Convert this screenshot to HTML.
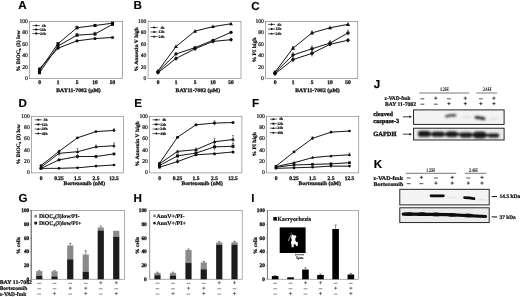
<!DOCTYPE html>
<html><head><meta charset="utf-8"><title>Figure</title>
<style>
html,body{margin:0;padding:0;background:#fff;}
body{width:520px;height:297px;overflow:hidden;font-family:"Liberation Serif",serif;}
svg{display:block;}
</style></head><body>
<svg width="520" height="297" viewBox="0 0 520 297" text-rendering="geometricPrecision">
<defs>
<filter id="bl" x="-5%" y="-5%" width="110%" height="110%"><feGaussianBlur stdDeviation="0.35"/></filter>
<filter id="bl3" x="-20%" y="-50%" width="140%" height="200%"><feGaussianBlur stdDeviation="0.6"/></filter>
<filter id="bl2" x="-20%" y="-50%" width="140%" height="200%"><feGaussianBlur stdDeviation="0.85"/></filter>
</defs>
<rect width="520" height="297" fill="#fff"/>
<g filter="url(#bl)" fill="#111">

<text x="18.3" y="9.0" font-size="11.6" font-family="Liberation Sans" font-weight="bold" fill="#000" stroke="#000" stroke-width="0.15">A</text>
<text x="133.6" y="9.45" font-size="11.6" font-family="Liberation Sans" font-weight="bold" fill="#000" stroke="#000" stroke-width="0.15">B</text>
<text x="251.2" y="9.7" font-size="11.6" font-family="Liberation Sans" font-weight="bold" fill="#000" stroke="#000" stroke-width="0.15">C</text>
<text x="18.5" y="106.7" font-size="11.6" font-family="Liberation Sans" font-weight="bold" fill="#000" stroke="#000" stroke-width="0.15">D</text>
<text x="134.2" y="106.8" font-size="11.6" font-family="Liberation Sans" font-weight="bold" fill="#000" stroke="#000" stroke-width="0.15">E</text>
<text x="251.9" y="107.4" font-size="11.6" font-family="Liberation Sans" font-weight="bold" fill="#000" stroke="#000" stroke-width="0.15">F</text>
<text x="18.4" y="202.0" font-size="11.6" font-family="Liberation Sans" font-weight="bold" fill="#000" stroke="#000" stroke-width="0.15">G</text>
<text x="133.6" y="201.9" font-size="11.6" font-family="Liberation Sans" font-weight="bold" fill="#000" stroke="#000" stroke-width="0.15">H</text>
<text x="251.2" y="201.8" font-size="11.6" font-family="Liberation Sans" font-weight="bold" fill="#000" stroke="#000" stroke-width="0.15">I</text>
<text x="373.7" y="88.0" font-size="11.6" font-family="Liberation Sans" font-weight="bold" fill="#000" stroke="#000" stroke-width="0.15">J</text>
<text x="373.8" y="167.6" font-size="11.6" font-family="Liberation Sans" font-weight="bold" fill="#000" stroke="#000" stroke-width="0.15">K</text>
<rect x="29.5" y="21.5" width="93.0" height="56.900000000000006" fill="none" stroke="#7c7c7c" stroke-width="0.65"/>
<g transform="translate(27.8,79.9) scale(0.1)"><text font-size="56.0" text-anchor="end" stroke="#111" stroke-width="2.0" font-family="Liberation Serif" >0</text></g>
<g transform="translate(27.8,68.52) scale(0.1)"><text font-size="56.0" text-anchor="end" stroke="#111" stroke-width="2.0" font-family="Liberation Serif" >20</text></g>
<g transform="translate(27.8,57.14) scale(0.1)"><text font-size="56.0" text-anchor="end" stroke="#111" stroke-width="2.0" font-family="Liberation Serif" >40</text></g>
<g transform="translate(27.8,45.76) scale(0.1)"><text font-size="56.0" text-anchor="end" stroke="#111" stroke-width="2.0" font-family="Liberation Serif" >60</text></g>
<g transform="translate(27.8,34.38) scale(0.1)"><text font-size="56.0" text-anchor="end" stroke="#111" stroke-width="2.0" font-family="Liberation Serif" >80</text></g>
<g transform="translate(27.8,23.0) scale(0.1)"><text font-size="56.0" text-anchor="end" stroke="#111" stroke-width="2.0" font-family="Liberation Serif" >100</text></g>
<g transform="translate(39.5,83.80000000000001) scale(0.1)"><text font-size="55.0" text-anchor="middle" stroke="#111" stroke-width="2.8000000000000003" font-family="Liberation Serif" font-weight="bold" >0</text></g>
<g transform="translate(58,83.80000000000001) scale(0.1)"><text font-size="55.0" text-anchor="middle" stroke="#111" stroke-width="2.8000000000000003" font-family="Liberation Serif" font-weight="bold" >1</text></g>
<g transform="translate(77,83.80000000000001) scale(0.1)"><text font-size="55.0" text-anchor="middle" stroke="#111" stroke-width="2.8000000000000003" font-family="Liberation Serif" font-weight="bold" >5</text></g>
<g transform="translate(95,83.80000000000001) scale(0.1)"><text font-size="55.0" text-anchor="middle" stroke="#111" stroke-width="2.8000000000000003" font-family="Liberation Serif" font-weight="bold" >10</text></g>
<g transform="translate(112.5,83.80000000000001) scale(0.1)"><text font-size="55.0" text-anchor="middle" stroke="#111" stroke-width="2.8000000000000003" font-family="Liberation Serif" font-weight="bold" >50</text></g>
<g transform="translate(78.5,91.9) scale(0.1)"><text font-size="54.0" text-anchor="middle" stroke="#111" stroke-width="2.8000000000000003" font-family="Liberation Serif" font-weight="bold" textLength="445.0" lengthAdjust="spacingAndGlyphs" >BAY11-7082 (μM)</text></g>
<g transform="translate(19.55,71.4) rotate(-90) scale(0.1)"><text font-size="52" text-anchor="start" stroke="#111" stroke-width="2.4" font-family="Liberation Serif" font-weight="bold" textLength="409" lengthAdjust="spacingAndGlyphs">% DiOC₆ (3) low</text></g>
<polyline points="39.50,68.73 58.00,48.24 77.00,40.85 95.00,38.57 112.50,37.43" fill="none" stroke="#0a0a0a" stroke-width="0.95"/>
<circle cx="39.50" cy="68.73" r="1.55"/>
<circle cx="58.00" cy="48.24" r="1.55"/>
<circle cx="77.00" cy="40.85" r="1.55"/>
<circle cx="95.00" cy="38.57" r="1.55"/>
<circle cx="112.50" cy="37.43" r="1.55"/>
<polyline points="39.50,72.71 58.00,45.97 77.00,35.16 95.00,34.02 112.50,24.35" fill="none" stroke="#0a0a0a" stroke-width="0.95"/>
<rect x="37.95" y="71.16" width="3.1" height="3.1"/>
<rect x="56.45" y="44.42" width="3.1" height="3.1"/>
<rect x="75.45" y="33.61" width="3.1" height="3.1"/>
<rect x="93.45" y="32.47" width="3.1" height="3.1"/>
<rect x="110.95" y="22.80" width="3.1" height="3.1"/>
<polyline points="39.50,70.43 58.00,43.69 77.00,27.76 95.00,25.48 112.50,23.21" fill="none" stroke="#0a0a0a" stroke-width="0.95"/>
<rect x="37.95" y="68.88" width="3.1" height="3.1"/>
<rect x="56.45" y="42.14" width="3.1" height="3.1"/>
<rect x="75.45" y="26.21" width="3.1" height="3.1"/>
<rect x="93.45" y="23.93" width="3.1" height="3.1"/>
<rect x="110.95" y="21.66" width="3.1" height="3.1"/>
<line x1="77" y1="26.05" x2="77" y2="29.47" stroke="#222" stroke-width="0.5"/>
<line x1="76" y1="26.05" x2="78" y2="26.05" stroke="#222" stroke-width="0.5"/>
<line x1="77" y1="33.45" x2="77" y2="36.86" stroke="#222" stroke-width="0.5"/>
<line x1="76" y1="33.45" x2="78" y2="33.45" stroke="#222" stroke-width="0.5"/>
<line x1="95" y1="32.31" x2="95" y2="35.73" stroke="#222" stroke-width="0.5"/>
<line x1="94" y1="32.31" x2="96" y2="32.31" stroke="#222" stroke-width="0.5"/>
<line x1="32.5" y1="25.60" x2="40.0" y2="25.60" stroke="#111" stroke-width="0.7"/>
<circle cx="36.25" cy="25.60" r="1.0"/>
<g transform="translate(45.800000000000004,26.8) scale(0.1)"><text font-size="38.0" text-anchor="end" stroke="#111" stroke-width="2.0" font-family="Liberation Serif" font-weight="bold" >4h</text></g>
<line x1="32.5" y1="29.55" x2="40.0" y2="29.55" stroke="#111" stroke-width="0.7"/>
<rect x="35.25" y="28.55" width="2.0" height="2.0"/>
<g transform="translate(45.800000000000004,30.75) scale(0.1)"><text font-size="38.0" text-anchor="end" stroke="#111" stroke-width="2.0" font-family="Liberation Serif" font-weight="bold" >12h</text></g>
<line x1="32.5" y1="33.50" x2="40.0" y2="33.50" stroke="#111" stroke-width="0.7"/>
<rect x="35.25" y="32.50" width="2.0" height="2.0"/>
<g transform="translate(45.800000000000004,34.7) scale(0.1)"><text font-size="38.0" text-anchor="end" stroke="#111" stroke-width="2.0" font-family="Liberation Serif" font-weight="bold" >24h</text></g>
<rect x="148.1" y="21.5" width="92.9" height="56.900000000000006" fill="none" stroke="#7c7c7c" stroke-width="0.65"/>
<g transform="translate(146.4,79.9) scale(0.1)"><text font-size="56.0" text-anchor="end" stroke="#111" stroke-width="2.0" font-family="Liberation Serif" >0</text></g>
<g transform="translate(146.4,68.52) scale(0.1)"><text font-size="56.0" text-anchor="end" stroke="#111" stroke-width="2.0" font-family="Liberation Serif" >20</text></g>
<g transform="translate(146.4,57.14) scale(0.1)"><text font-size="56.0" text-anchor="end" stroke="#111" stroke-width="2.0" font-family="Liberation Serif" >40</text></g>
<g transform="translate(146.4,45.76) scale(0.1)"><text font-size="56.0" text-anchor="end" stroke="#111" stroke-width="2.0" font-family="Liberation Serif" >60</text></g>
<g transform="translate(146.4,34.38) scale(0.1)"><text font-size="56.0" text-anchor="end" stroke="#111" stroke-width="2.0" font-family="Liberation Serif" >80</text></g>
<g transform="translate(146.4,23.0) scale(0.1)"><text font-size="56.0" text-anchor="end" stroke="#111" stroke-width="2.0" font-family="Liberation Serif" >100</text></g>
<g transform="translate(158,83.80000000000001) scale(0.1)"><text font-size="55.0" text-anchor="middle" stroke="#111" stroke-width="2.8000000000000003" font-family="Liberation Serif" font-weight="bold" >0</text></g>
<g transform="translate(176,83.80000000000001) scale(0.1)"><text font-size="55.0" text-anchor="middle" stroke="#111" stroke-width="2.8000000000000003" font-family="Liberation Serif" font-weight="bold" >1</text></g>
<g transform="translate(195,83.80000000000001) scale(0.1)"><text font-size="55.0" text-anchor="middle" stroke="#111" stroke-width="2.8000000000000003" font-family="Liberation Serif" font-weight="bold" >5</text></g>
<g transform="translate(213,83.80000000000001) scale(0.1)"><text font-size="55.0" text-anchor="middle" stroke="#111" stroke-width="2.8000000000000003" font-family="Liberation Serif" font-weight="bold" >10</text></g>
<g transform="translate(231,83.80000000000001) scale(0.1)"><text font-size="55.0" text-anchor="middle" stroke="#111" stroke-width="2.8000000000000003" font-family="Liberation Serif" font-weight="bold" >50</text></g>
<g transform="translate(197.8,91.9) scale(0.1)"><text font-size="54.0" text-anchor="middle" stroke="#111" stroke-width="2.8000000000000003" font-family="Liberation Serif" font-weight="bold" textLength="445.0" lengthAdjust="spacingAndGlyphs" >BAY11-7082 (μM)</text></g>
<g transform="translate(138.15,71.4) rotate(-90) scale(0.1)"><text font-size="52" text-anchor="start" stroke="#111" stroke-width="2.4" font-family="Liberation Serif" font-weight="bold" textLength="441" lengthAdjust="spacingAndGlyphs">% Annexin V high</text></g>
<polyline points="158.00,72.71 176.00,58.49 195.00,48.81 213.00,41.41 231.00,39.71" fill="none" stroke="#0a0a0a" stroke-width="0.95"/>
<path d="M158.00 70.57 L159.98 72.71 L158.00 74.86 L156.02 72.71Z"/>
<path d="M176.00 56.34 L177.98 58.49 L176.00 60.63 L174.02 58.49Z"/>
<path d="M195.00 46.67 L196.98 48.81 L195.00 50.96 L193.02 48.81Z"/>
<path d="M213.00 39.27 L214.98 41.41 L213.00 43.56 L211.02 41.41Z"/>
<path d="M231.00 37.56 L232.98 39.71 L231.00 41.85 L229.02 39.71Z"/>
<polyline points="158.00,71.57 176.00,53.93 195.00,47.67 213.00,40.28 231.00,32.31" fill="none" stroke="#0a0a0a" stroke-width="0.95"/>
<circle cx="158.00" cy="71.57" r="1.65"/>
<circle cx="176.00" cy="53.93" r="1.65"/>
<circle cx="195.00" cy="47.67" r="1.65"/>
<circle cx="213.00" cy="40.28" r="1.65"/>
<circle cx="231.00" cy="32.31" r="1.65"/>
<polyline points="158.00,71.00 176.00,46.54 195.00,31.17 213.00,26.62 231.00,23.78" fill="none" stroke="#0a0a0a" stroke-width="0.95"/>
<path d="M158.00 68.86 L159.98 72.49 L156.02 72.49Z"/>
<path d="M176.00 44.39 L177.98 48.02 L174.02 48.02Z"/>
<path d="M195.00 29.03 L196.98 32.66 L193.02 32.66Z"/>
<path d="M213.00 24.48 L214.98 28.11 L211.02 28.11Z"/>
<path d="M231.00 21.63 L232.98 25.26 L229.02 25.26Z"/>
<line x1="150.6" y1="27.50" x2="157.6" y2="27.50" stroke="#111" stroke-width="0.7"/>
<path d="M154.10 26.20 L155.30 27.50 L154.10 28.80 L152.90 27.50Z"/>
<g transform="translate(164.39999999999998,28.7) scale(0.1)"><text font-size="38.0" text-anchor="end" stroke="#111" stroke-width="2.0" font-family="Liberation Serif" font-weight="bold" >4h</text></g>
<line x1="150.6" y1="32.00" x2="157.6" y2="32.00" stroke="#111" stroke-width="0.7"/>
<circle cx="154.10" cy="32.00" r="1.0"/>
<g transform="translate(164.39999999999998,33.2) scale(0.1)"><text font-size="38.0" text-anchor="end" stroke="#111" stroke-width="2.0" font-family="Liberation Serif" font-weight="bold" >12h</text></g>
<line x1="150.6" y1="36.50" x2="157.6" y2="36.50" stroke="#111" stroke-width="0.7"/>
<path d="M154.10 35.20 L155.30 37.40 L152.90 37.40Z"/>
<g transform="translate(164.39999999999998,37.7) scale(0.1)"><text font-size="38.0" text-anchor="end" stroke="#111" stroke-width="2.0" font-family="Liberation Serif" font-weight="bold" >24h</text></g>
<rect x="265.5" y="21.5" width="92.25" height="56.900000000000006" fill="none" stroke="#7c7c7c" stroke-width="0.65"/>
<g transform="translate(263.8,79.9) scale(0.1)"><text font-size="56.0" text-anchor="end" stroke="#111" stroke-width="2.0" font-family="Liberation Serif" >0</text></g>
<g transform="translate(263.8,68.52) scale(0.1)"><text font-size="56.0" text-anchor="end" stroke="#111" stroke-width="2.0" font-family="Liberation Serif" >20</text></g>
<g transform="translate(263.8,57.14) scale(0.1)"><text font-size="56.0" text-anchor="end" stroke="#111" stroke-width="2.0" font-family="Liberation Serif" >40</text></g>
<g transform="translate(263.8,45.76) scale(0.1)"><text font-size="56.0" text-anchor="end" stroke="#111" stroke-width="2.0" font-family="Liberation Serif" >60</text></g>
<g transform="translate(263.8,34.38) scale(0.1)"><text font-size="56.0" text-anchor="end" stroke="#111" stroke-width="2.0" font-family="Liberation Serif" >80</text></g>
<g transform="translate(263.8,23.0) scale(0.1)"><text font-size="56.0" text-anchor="end" stroke="#111" stroke-width="2.0" font-family="Liberation Serif" >100</text></g>
<g transform="translate(275,83.80000000000001) scale(0.1)"><text font-size="55.0" text-anchor="middle" stroke="#111" stroke-width="2.8000000000000003" font-family="Liberation Serif" font-weight="bold" >0</text></g>
<g transform="translate(293,83.80000000000001) scale(0.1)"><text font-size="55.0" text-anchor="middle" stroke="#111" stroke-width="2.8000000000000003" font-family="Liberation Serif" font-weight="bold" >1</text></g>
<g transform="translate(312,83.80000000000001) scale(0.1)"><text font-size="55.0" text-anchor="middle" stroke="#111" stroke-width="2.8000000000000003" font-family="Liberation Serif" font-weight="bold" >5</text></g>
<g transform="translate(330,83.80000000000001) scale(0.1)"><text font-size="55.0" text-anchor="middle" stroke="#111" stroke-width="2.8000000000000003" font-family="Liberation Serif" font-weight="bold" >10</text></g>
<g transform="translate(348,83.80000000000001) scale(0.1)"><text font-size="55.0" text-anchor="middle" stroke="#111" stroke-width="2.8000000000000003" font-family="Liberation Serif" font-weight="bold" >50</text></g>
<g transform="translate(317.5,91.9) scale(0.1)"><text font-size="54.0" text-anchor="middle" stroke="#111" stroke-width="2.8000000000000003" font-family="Liberation Serif" font-weight="bold" textLength="445.0" lengthAdjust="spacingAndGlyphs" >BAY11-7082 (μM)</text></g>
<g transform="translate(255.65,62.6) rotate(-90) scale(0.1)"><text font-size="52" text-anchor="start" stroke="#111" stroke-width="2.4" font-family="Liberation Serif" font-weight="bold" textLength="251" lengthAdjust="spacingAndGlyphs">% PI high</text></g>
<polyline points="275.00,73.85 293.00,59.62 312.00,53.36 330.00,44.26 348.00,40.28" fill="none" stroke="#0a0a0a" stroke-width="0.95"/>
<path d="M275.00 71.57 L277.10 73.85 L275.00 76.12 L272.90 73.85Z"/>
<path d="M293.00 57.35 L295.10 59.62 L293.00 61.90 L290.90 59.62Z"/>
<path d="M312.00 51.09 L314.10 53.36 L312.00 55.64 L309.90 53.36Z"/>
<path d="M330.00 41.99 L332.10 44.26 L330.00 46.54 L327.90 44.26Z"/>
<path d="M348.00 38.00 L350.10 40.28 L348.00 42.55 L345.90 40.28Z"/>
<polyline points="275.00,72.71 293.00,55.07 312.00,48.81 330.00,43.12 348.00,32.88" fill="none" stroke="#0a0a0a" stroke-width="0.95"/>
<circle cx="275.00" cy="72.71" r="1.75"/>
<circle cx="293.00" cy="55.07" r="1.75"/>
<circle cx="312.00" cy="48.81" r="1.75"/>
<circle cx="330.00" cy="43.12" r="1.75"/>
<circle cx="348.00" cy="32.88" r="1.75"/>
<polyline points="275.00,72.14 293.00,48.24 312.00,32.88 330.00,27.76 348.00,24.35" fill="none" stroke="#0a0a0a" stroke-width="0.95"/>
<path d="M275.00 69.87 L277.10 73.72 L272.90 73.72Z"/>
<path d="M293.00 45.97 L295.10 49.82 L290.90 49.82Z"/>
<path d="M312.00 30.60 L314.10 34.45 L309.90 34.45Z"/>
<path d="M330.00 25.48 L332.10 29.33 L327.90 29.33Z"/>
<path d="M348.00 22.07 L350.10 25.92 L345.90 25.92Z"/>
<line x1="293" y1="57.35" x2="293" y2="61.90" stroke="#222" stroke-width="0.5"/>
<line x1="292" y1="57.35" x2="294" y2="57.35" stroke="#222" stroke-width="0.5"/>
<line x1="293" y1="52.80" x2="293" y2="57.35" stroke="#222" stroke-width="0.5"/>
<line x1="292" y1="52.80" x2="294" y2="52.80" stroke="#222" stroke-width="0.5"/>
<line x1="312" y1="49.95" x2="312" y2="56.78" stroke="#222" stroke-width="0.5"/>
<line x1="311" y1="49.95" x2="313" y2="49.95" stroke="#222" stroke-width="0.5"/>
<line x1="312" y1="45.97" x2="312" y2="51.66" stroke="#222" stroke-width="0.5"/>
<line x1="311" y1="45.97" x2="313" y2="45.97" stroke="#222" stroke-width="0.5"/>
<line x1="312" y1="31.17" x2="312" y2="34.59" stroke="#222" stroke-width="0.5"/>
<line x1="311" y1="31.17" x2="313" y2="31.17" stroke="#222" stroke-width="0.5"/>
<line x1="330" y1="40.85" x2="330" y2="45.40" stroke="#222" stroke-width="0.5"/>
<line x1="329" y1="40.85" x2="331" y2="40.85" stroke="#222" stroke-width="0.5"/>
<line x1="348" y1="30.04" x2="348" y2="35.73" stroke="#222" stroke-width="0.5"/>
<line x1="347" y1="30.04" x2="349" y2="30.04" stroke="#222" stroke-width="0.5"/>
<line x1="293" y1="46.54" x2="293" y2="49.95" stroke="#222" stroke-width="0.5"/>
<line x1="292" y1="46.54" x2="294" y2="46.54" stroke="#222" stroke-width="0.5"/>
<line x1="268.1" y1="24.40" x2="275.1" y2="24.40" stroke="#111" stroke-width="0.7"/>
<path d="M271.60 23.10 L272.80 24.40 L271.60 25.70 L270.40 24.40Z"/>
<g transform="translate(281.30000000000007,25.6) scale(0.1)"><text font-size="38.0" text-anchor="end" stroke="#111" stroke-width="2.0" font-family="Liberation Serif" font-weight="bold" >4h</text></g>
<line x1="268.1" y1="29.05" x2="275.1" y2="29.05" stroke="#111" stroke-width="0.7"/>
<circle cx="271.60" cy="29.05" r="1.0"/>
<g transform="translate(281.30000000000007,30.25) scale(0.1)"><text font-size="38.0" text-anchor="end" stroke="#111" stroke-width="2.0" font-family="Liberation Serif" font-weight="bold" >12h</text></g>
<line x1="268.1" y1="33.70" x2="275.1" y2="33.70" stroke="#111" stroke-width="0.7"/>
<path d="M271.60 32.40 L272.80 34.60 L270.40 34.60Z"/>
<g transform="translate(281.30000000000007,34.9) scale(0.1)"><text font-size="38.0" text-anchor="end" stroke="#111" stroke-width="2.0" font-family="Liberation Serif" font-weight="bold" >24h</text></g>
<rect x="31.4" y="116.3" width="92.1" height="56.60000000000001" fill="none" stroke="#7c7c7c" stroke-width="0.65"/>
<g transform="translate(29.7,174.4) scale(0.1)"><text font-size="56.0" text-anchor="end" stroke="#111" stroke-width="2.0" font-family="Liberation Serif" >0</text></g>
<g transform="translate(29.7,163.08) scale(0.1)"><text font-size="56.0" text-anchor="end" stroke="#111" stroke-width="2.0" font-family="Liberation Serif" >20</text></g>
<g transform="translate(29.7,151.76) scale(0.1)"><text font-size="56.0" text-anchor="end" stroke="#111" stroke-width="2.0" font-family="Liberation Serif" >40</text></g>
<g transform="translate(29.7,140.44) scale(0.1)"><text font-size="56.0" text-anchor="end" stroke="#111" stroke-width="2.0" font-family="Liberation Serif" >60</text></g>
<g transform="translate(29.7,129.12) scale(0.1)"><text font-size="56.0" text-anchor="end" stroke="#111" stroke-width="2.0" font-family="Liberation Serif" >80</text></g>
<g transform="translate(29.7,117.8) scale(0.1)"><text font-size="56.0" text-anchor="end" stroke="#111" stroke-width="2.0" font-family="Liberation Serif" >100</text></g>
<g transform="translate(41,179.5) scale(0.1)"><text font-size="55.0" text-anchor="middle" stroke="#111" stroke-width="2.8000000000000003" font-family="Liberation Serif" font-weight="bold" >0</text></g>
<g transform="translate(59,179.5) scale(0.1)"><text font-size="55.0" text-anchor="middle" stroke="#111" stroke-width="2.8000000000000003" font-family="Liberation Serif" font-weight="bold" >0.25</text></g>
<g transform="translate(77.5,179.5) scale(0.1)"><text font-size="55.0" text-anchor="middle" stroke="#111" stroke-width="2.8000000000000003" font-family="Liberation Serif" font-weight="bold" >1.5</text></g>
<g transform="translate(96,179.5) scale(0.1)"><text font-size="55.0" text-anchor="middle" stroke="#111" stroke-width="2.8000000000000003" font-family="Liberation Serif" font-weight="bold" >2.5</text></g>
<g transform="translate(114,179.5) scale(0.1)"><text font-size="55.0" text-anchor="middle" stroke="#111" stroke-width="2.8000000000000003" font-family="Liberation Serif" font-weight="bold" >12.5</text></g>
<g transform="translate(84.3,185.3) scale(0.1)"><text font-size="54.0" text-anchor="middle" stroke="#111" stroke-width="2.8000000000000003" font-family="Liberation Serif" font-weight="bold" textLength="415.0" lengthAdjust="spacingAndGlyphs" >Bortezomib (nM)</text></g>
<g transform="translate(20.15,164.2) rotate(-90) scale(0.1)"><text font-size="52" text-anchor="start" stroke="#111" stroke-width="2.4" font-family="Liberation Serif" font-weight="bold" textLength="400" lengthAdjust="spacingAndGlyphs">% DiOC₆ (3) low</text></g>
<polyline points="41.00,168.37 59.00,168.37 77.50,167.81 96.00,166.11 114.00,164.98" fill="none" stroke="#0a0a0a" stroke-width="0.95"/>
<circle cx="41.00" cy="168.37" r="1.35"/>
<circle cx="59.00" cy="168.37" r="1.35"/>
<circle cx="77.50" cy="167.81" r="1.35"/>
<circle cx="96.00" cy="166.11" r="1.35"/>
<circle cx="114.00" cy="164.98" r="1.35"/>
<polyline points="41.00,168.37 59.00,159.88 77.50,156.49 96.00,156.49 114.00,153.94" fill="none" stroke="#0a0a0a" stroke-width="0.95"/>
<rect x="39.65" y="167.02" width="2.7" height="2.7"/>
<rect x="57.65" y="158.53" width="2.7" height="2.7"/>
<rect x="76.15" y="155.14" width="2.7" height="2.7"/>
<rect x="94.65" y="155.14" width="2.7" height="2.7"/>
<rect x="112.65" y="152.59" width="2.7" height="2.7"/>
<polyline points="41.00,167.24 59.00,153.37 77.50,151.68 96.00,146.86 114.00,145.73" fill="none" stroke="#0a0a0a" stroke-width="0.95"/>
<path d="M41.00 165.49 L42.62 168.46 L39.38 168.46Z"/>
<path d="M59.00 151.62 L60.62 154.59 L57.38 154.59Z"/>
<path d="M77.50 149.92 L79.12 152.89 L75.88 152.89Z"/>
<path d="M96.00 145.11 L97.62 148.08 L94.38 148.08Z"/>
<path d="M114.00 143.98 L115.62 146.95 L112.38 146.95Z"/>
<polyline points="41.00,165.54 59.00,151.39 77.50,137.81 96.00,131.58 114.00,130.45" fill="none" stroke="#0a0a0a" stroke-width="0.95"/>
<circle cx="41.00" cy="165.54" r="1.35"/>
<circle cx="59.00" cy="151.39" r="1.35"/>
<circle cx="77.50" cy="137.81" r="1.35"/>
<circle cx="96.00" cy="131.58" r="1.35"/>
<circle cx="114.00" cy="130.45" r="1.35"/>
<line x1="59" y1="151.96" x2="59" y2="156.49" stroke="#222" stroke-width="0.5"/>
<line x1="58" y1="151.96" x2="60" y2="151.96" stroke="#222" stroke-width="0.5"/>
<line x1="77.5" y1="148.56" x2="77.5" y2="155.35" stroke="#222" stroke-width="0.5"/>
<line x1="76.5" y1="148.56" x2="78.5" y2="148.56" stroke="#222" stroke-width="0.5"/>
<line x1="77.5" y1="155.35" x2="77.5" y2="158.75" stroke="#222" stroke-width="0.5"/>
<line x1="76.5" y1="155.35" x2="78.5" y2="155.35" stroke="#222" stroke-width="0.5"/>
<line x1="96" y1="145.17" x2="96" y2="148.56" stroke="#222" stroke-width="0.5"/>
<line x1="95" y1="145.17" x2="97" y2="145.17" stroke="#222" stroke-width="0.5"/>
<line x1="96" y1="155.35" x2="96" y2="158.75" stroke="#222" stroke-width="0.5"/>
<line x1="95" y1="155.35" x2="97" y2="155.35" stroke="#222" stroke-width="0.5"/>
<line x1="114" y1="142.90" x2="114" y2="148.56" stroke="#222" stroke-width="0.5"/>
<line x1="113" y1="142.90" x2="115" y2="142.90" stroke="#222" stroke-width="0.5"/>
<line x1="114" y1="128.75" x2="114" y2="132.15" stroke="#222" stroke-width="0.5"/>
<line x1="113" y1="128.75" x2="115" y2="128.75" stroke="#222" stroke-width="0.5"/>
<line x1="34.8" y1="119.80" x2="41.8" y2="119.80" stroke="#111" stroke-width="0.7"/>
<circle cx="38.30" cy="119.80" r="1.0"/>
<g transform="translate(47.6,121.0) scale(0.1)"><text font-size="38.0" text-anchor="end" stroke="#111" stroke-width="2.0" font-family="Liberation Serif" font-weight="bold" >4h</text></g>
<line x1="34.8" y1="124.40" x2="41.8" y2="124.40" stroke="#111" stroke-width="0.7"/>
<rect x="37.30" y="123.40" width="2.0" height="2.0"/>
<g transform="translate(47.6,125.6) scale(0.1)"><text font-size="38.0" text-anchor="end" stroke="#111" stroke-width="2.0" font-family="Liberation Serif" font-weight="bold" >12h</text></g>
<line x1="34.8" y1="129.00" x2="41.8" y2="129.00" stroke="#111" stroke-width="0.7"/>
<path d="M38.30 127.70 L39.50 129.90 L37.10 129.90Z"/>
<g transform="translate(47.6,130.2) scale(0.1)"><text font-size="38.0" text-anchor="end" stroke="#111" stroke-width="2.0" font-family="Liberation Serif" font-weight="bold" >24h</text></g>
<line x1="34.8" y1="133.60" x2="41.8" y2="133.60" stroke="#111" stroke-width="0.7"/>
<circle cx="38.30" cy="133.60" r="1.0"/>
<g transform="translate(47.6,134.8) scale(0.1)"><text font-size="38.0" text-anchor="end" stroke="#111" stroke-width="2.0" font-family="Liberation Serif" font-weight="bold" >48h</text></g>
<rect x="149.6" y="116.3" width="92.30000000000001" height="56.60000000000001" fill="none" stroke="#7c7c7c" stroke-width="0.65"/>
<g transform="translate(147.9,174.4) scale(0.1)"><text font-size="56.0" text-anchor="end" stroke="#111" stroke-width="2.0" font-family="Liberation Serif" >0</text></g>
<g transform="translate(147.9,163.08) scale(0.1)"><text font-size="56.0" text-anchor="end" stroke="#111" stroke-width="2.0" font-family="Liberation Serif" >20</text></g>
<g transform="translate(147.9,151.76) scale(0.1)"><text font-size="56.0" text-anchor="end" stroke="#111" stroke-width="2.0" font-family="Liberation Serif" >40</text></g>
<g transform="translate(147.9,140.44) scale(0.1)"><text font-size="56.0" text-anchor="end" stroke="#111" stroke-width="2.0" font-family="Liberation Serif" >60</text></g>
<g transform="translate(147.9,129.12) scale(0.1)"><text font-size="56.0" text-anchor="end" stroke="#111" stroke-width="2.0" font-family="Liberation Serif" >80</text></g>
<g transform="translate(147.9,117.8) scale(0.1)"><text font-size="56.0" text-anchor="end" stroke="#111" stroke-width="2.0" font-family="Liberation Serif" >100</text></g>
<g transform="translate(159.5,179.5) scale(0.1)"><text font-size="55.0" text-anchor="middle" stroke="#111" stroke-width="2.8000000000000003" font-family="Liberation Serif" font-weight="bold" >0</text></g>
<g transform="translate(177.5,179.5) scale(0.1)"><text font-size="55.0" text-anchor="middle" stroke="#111" stroke-width="2.8000000000000003" font-family="Liberation Serif" font-weight="bold" >0.25</text></g>
<g transform="translate(196,179.5) scale(0.1)"><text font-size="55.0" text-anchor="middle" stroke="#111" stroke-width="2.8000000000000003" font-family="Liberation Serif" font-weight="bold" >1.5</text></g>
<g transform="translate(214.5,179.5) scale(0.1)"><text font-size="55.0" text-anchor="middle" stroke="#111" stroke-width="2.8000000000000003" font-family="Liberation Serif" font-weight="bold" >2.5</text></g>
<g transform="translate(233,179.5) scale(0.1)"><text font-size="55.0" text-anchor="middle" stroke="#111" stroke-width="2.8000000000000003" font-family="Liberation Serif" font-weight="bold" >12.5</text></g>
<g transform="translate(202.2,185.3) scale(0.1)"><text font-size="54.0" text-anchor="middle" stroke="#111" stroke-width="2.8000000000000003" font-family="Liberation Serif" font-weight="bold" textLength="415.0" lengthAdjust="spacingAndGlyphs" >Bortezomib (nM)</text></g>
<g transform="translate(139.05,166.4) rotate(-90) scale(0.1)"><text font-size="52" text-anchor="start" stroke="#111" stroke-width="2.4" font-family="Liberation Serif" font-weight="bold" textLength="452" lengthAdjust="spacingAndGlyphs">% Annexin V high</text></g>
<polyline points="159.50,167.24 177.50,161.58 196.00,154.79 214.50,153.66 233.00,151.96" fill="none" stroke="#0a0a0a" stroke-width="0.95"/>
<circle cx="159.50" cy="167.24" r="1.5"/>
<circle cx="177.50" cy="161.58" r="1.5"/>
<circle cx="196.00" cy="154.79" r="1.5"/>
<circle cx="214.50" cy="153.66" r="1.5"/>
<circle cx="233.00" cy="151.96" r="1.5"/>
<polyline points="159.50,165.54 177.50,155.92 196.00,153.09 214.50,146.86 233.00,146.30" fill="none" stroke="#0a0a0a" stroke-width="0.95"/>
<rect x="158.00" y="164.04" width="3.0" height="3.0"/>
<rect x="176.00" y="154.42" width="3.0" height="3.0"/>
<rect x="194.50" y="151.59" width="3.0" height="3.0"/>
<rect x="213.00" y="145.36" width="3.0" height="3.0"/>
<rect x="231.50" y="144.80" width="3.0" height="3.0"/>
<polyline points="159.50,163.84 177.50,151.39 196.00,149.69 214.50,141.77 233.00,139.51" fill="none" stroke="#0a0a0a" stroke-width="0.95"/>
<path d="M159.50 161.89 L161.30 165.19 L157.70 165.19Z"/>
<path d="M177.50 149.44 L179.30 152.74 L175.70 152.74Z"/>
<path d="M196.00 147.74 L197.80 151.04 L194.20 151.04Z"/>
<path d="M214.50 139.82 L216.30 143.12 L212.70 143.12Z"/>
<path d="M233.00 137.56 L234.80 140.86 L231.20 140.86Z"/>
<polyline points="159.50,163.28 177.50,137.24 196.00,124.79 214.50,123.09 233.00,122.53" fill="none" stroke="#0a0a0a" stroke-width="0.95"/>
<circle cx="159.50" cy="163.28" r="1.5"/>
<circle cx="177.50" cy="137.24" r="1.5"/>
<circle cx="196.00" cy="124.79" r="1.5"/>
<circle cx="214.50" cy="123.09" r="1.5"/>
<circle cx="233.00" cy="122.53" r="1.5"/>
<line x1="177.5" y1="159.32" x2="177.5" y2="163.84" stroke="#222" stroke-width="0.5"/>
<line x1="176.5" y1="159.32" x2="178.5" y2="159.32" stroke="#222" stroke-width="0.5"/>
<line x1="177.5" y1="153.66" x2="177.5" y2="158.18" stroke="#222" stroke-width="0.5"/>
<line x1="176.5" y1="153.66" x2="178.5" y2="153.66" stroke="#222" stroke-width="0.5"/>
<line x1="196" y1="150.83" x2="196" y2="155.35" stroke="#222" stroke-width="0.5"/>
<line x1="195" y1="150.83" x2="197" y2="150.83" stroke="#222" stroke-width="0.5"/>
<line x1="196" y1="148.00" x2="196" y2="151.39" stroke="#222" stroke-width="0.5"/>
<line x1="195" y1="148.00" x2="197" y2="148.00" stroke="#222" stroke-width="0.5"/>
<line x1="214.5" y1="142.90" x2="214.5" y2="150.83" stroke="#222" stroke-width="0.5"/>
<line x1="213.5" y1="142.90" x2="215.5" y2="142.90" stroke="#222" stroke-width="0.5"/>
<line x1="214.5" y1="138.37" x2="214.5" y2="145.17" stroke="#222" stroke-width="0.5"/>
<line x1="213.5" y1="138.37" x2="215.5" y2="138.37" stroke="#222" stroke-width="0.5"/>
<line x1="214.5" y1="120.83" x2="214.5" y2="125.36" stroke="#222" stroke-width="0.5"/>
<line x1="213.5" y1="120.83" x2="215.5" y2="120.83" stroke="#222" stroke-width="0.5"/>
<line x1="233" y1="135.54" x2="233" y2="143.47" stroke="#222" stroke-width="0.5"/>
<line x1="232" y1="135.54" x2="234" y2="135.54" stroke="#222" stroke-width="0.5"/>
<line x1="233" y1="143.47" x2="233" y2="149.13" stroke="#222" stroke-width="0.5"/>
<line x1="232" y1="143.47" x2="234" y2="143.47" stroke="#222" stroke-width="0.5"/>
<line x1="152.6" y1="119.80" x2="160.1" y2="119.80" stroke="#111" stroke-width="0.7"/>
<circle cx="156.35" cy="119.80" r="1.0"/>
<g transform="translate(166.2,121.0) scale(0.1)"><text font-size="38.0" text-anchor="end" stroke="#111" stroke-width="2.0" font-family="Liberation Serif" font-weight="bold" >4h</text></g>
<line x1="152.6" y1="124.40" x2="160.1" y2="124.40" stroke="#111" stroke-width="0.7"/>
<rect x="155.35" y="123.40" width="2.0" height="2.0"/>
<g transform="translate(166.2,125.6) scale(0.1)"><text font-size="38.0" text-anchor="end" stroke="#111" stroke-width="2.0" font-family="Liberation Serif" font-weight="bold" >12h</text></g>
<line x1="152.6" y1="129.00" x2="160.1" y2="129.00" stroke="#111" stroke-width="0.7"/>
<path d="M156.35 127.70 L157.55 129.90 L155.15 129.90Z"/>
<g transform="translate(166.2,130.2) scale(0.1)"><text font-size="38.0" text-anchor="end" stroke="#111" stroke-width="2.0" font-family="Liberation Serif" font-weight="bold" >24h</text></g>
<line x1="152.6" y1="133.60" x2="160.1" y2="133.60" stroke="#111" stroke-width="0.7"/>
<circle cx="156.35" cy="133.60" r="1.0"/>
<g transform="translate(166.2,134.8) scale(0.1)"><text font-size="38.0" text-anchor="end" stroke="#111" stroke-width="2.0" font-family="Liberation Serif" font-weight="bold" >48h</text></g>
<rect x="266.6" y="116.3" width="92.14999999999998" height="56.60000000000001" fill="none" stroke="#7c7c7c" stroke-width="0.65"/>
<g transform="translate(264.90000000000003,174.4) scale(0.1)"><text font-size="56.0" text-anchor="end" stroke="#111" stroke-width="2.0" font-family="Liberation Serif" >0</text></g>
<g transform="translate(264.90000000000003,163.08) scale(0.1)"><text font-size="56.0" text-anchor="end" stroke="#111" stroke-width="2.0" font-family="Liberation Serif" >20</text></g>
<g transform="translate(264.90000000000003,151.76) scale(0.1)"><text font-size="56.0" text-anchor="end" stroke="#111" stroke-width="2.0" font-family="Liberation Serif" >40</text></g>
<g transform="translate(264.90000000000003,140.44) scale(0.1)"><text font-size="56.0" text-anchor="end" stroke="#111" stroke-width="2.0" font-family="Liberation Serif" >60</text></g>
<g transform="translate(264.90000000000003,129.12) scale(0.1)"><text font-size="56.0" text-anchor="end" stroke="#111" stroke-width="2.0" font-family="Liberation Serif" >80</text></g>
<g transform="translate(264.90000000000003,117.8) scale(0.1)"><text font-size="56.0" text-anchor="end" stroke="#111" stroke-width="2.0" font-family="Liberation Serif" >100</text></g>
<g transform="translate(276,179.5) scale(0.1)"><text font-size="55.0" text-anchor="middle" stroke="#111" stroke-width="2.8000000000000003" font-family="Liberation Serif" font-weight="bold" >0</text></g>
<g transform="translate(294,179.5) scale(0.1)"><text font-size="55.0" text-anchor="middle" stroke="#111" stroke-width="2.8000000000000003" font-family="Liberation Serif" font-weight="bold" >0.25</text></g>
<g transform="translate(312.5,179.5) scale(0.1)"><text font-size="55.0" text-anchor="middle" stroke="#111" stroke-width="2.8000000000000003" font-family="Liberation Serif" font-weight="bold" >1.5</text></g>
<g transform="translate(331,179.5) scale(0.1)"><text font-size="55.0" text-anchor="middle" stroke="#111" stroke-width="2.8000000000000003" font-family="Liberation Serif" font-weight="bold" >2.5</text></g>
<g transform="translate(349.5,179.5) scale(0.1)"><text font-size="55.0" text-anchor="middle" stroke="#111" stroke-width="2.8000000000000003" font-family="Liberation Serif" font-weight="bold" >12.5</text></g>
<g transform="translate(319.7,185.3) scale(0.1)"><text font-size="54.0" text-anchor="middle" stroke="#111" stroke-width="2.8000000000000003" font-family="Liberation Serif" font-weight="bold" textLength="423.0" lengthAdjust="spacingAndGlyphs" >Bortezomib (nM)</text></g>
<g transform="translate(256.05,156.6) rotate(-90) scale(0.1)"><text font-size="52" text-anchor="start" stroke="#111" stroke-width="2.4" font-family="Liberation Serif" font-weight="bold" textLength="245" lengthAdjust="spacingAndGlyphs">% PI high</text></g>
<polyline points="276.00,168.37 294.00,167.81 312.50,167.24 331.00,166.11 349.50,166.11" fill="none" stroke="#0a0a0a" stroke-width="0.95"/>
<circle cx="276.00" cy="168.37" r="1.35"/>
<circle cx="294.00" cy="167.81" r="1.35"/>
<circle cx="312.50" cy="167.24" r="1.35"/>
<circle cx="331.00" cy="166.11" r="1.35"/>
<circle cx="349.50" cy="166.11" r="1.35"/>
<polyline points="276.00,167.24 294.00,164.98 312.50,164.41 331.00,163.84 349.50,162.71" fill="none" stroke="#0a0a0a" stroke-width="0.95"/>
<rect x="274.65" y="165.89" width="2.7" height="2.7"/>
<rect x="292.65" y="163.63" width="2.7" height="2.7"/>
<rect x="311.15" y="163.06" width="2.7" height="2.7"/>
<rect x="329.65" y="162.49" width="2.7" height="2.7"/>
<rect x="348.15" y="161.36" width="2.7" height="2.7"/>
<polyline points="276.00,166.67 294.00,162.71 312.50,157.62 331.00,155.92 349.50,154.79" fill="none" stroke="#0a0a0a" stroke-width="0.95"/>
<path d="M276.00 164.92 L277.62 167.89 L274.38 167.89Z"/>
<path d="M294.00 160.96 L295.62 163.93 L292.38 163.93Z"/>
<path d="M312.50 155.86 L314.12 158.83 L310.88 158.83Z"/>
<path d="M331.00 154.17 L332.62 157.14 L329.38 157.14Z"/>
<path d="M349.50 153.03 L351.12 156.00 L347.88 156.00Z"/>
<polyline points="276.00,166.11 294.00,151.96 312.50,138.37 331.00,132.15 349.50,131.02" fill="none" stroke="#0a0a0a" stroke-width="0.95"/>
<circle cx="276.00" cy="166.11" r="1.35"/>
<circle cx="294.00" cy="151.96" r="1.35"/>
<circle cx="312.50" cy="138.37" r="1.35"/>
<circle cx="331.00" cy="132.15" r="1.35"/>
<circle cx="349.50" cy="131.02" r="1.35"/>
<line x1="312.5" y1="136.68" x2="312.5" y2="140.07" stroke="#222" stroke-width="0.5"/>
<line x1="311.5" y1="136.68" x2="313.5" y2="136.68" stroke="#222" stroke-width="0.5"/>
<line x1="349.5" y1="153.09" x2="349.5" y2="156.49" stroke="#222" stroke-width="0.5"/>
<line x1="348.5" y1="153.09" x2="350.5" y2="153.09" stroke="#222" stroke-width="0.5"/>
<line x1="294" y1="163.28" x2="294" y2="166.67" stroke="#222" stroke-width="0.5"/>
<line x1="293" y1="163.28" x2="295" y2="163.28" stroke="#222" stroke-width="0.5"/>
<line x1="312.5" y1="163.28" x2="312.5" y2="165.54" stroke="#222" stroke-width="0.5"/>
<line x1="311.5" y1="163.28" x2="313.5" y2="163.28" stroke="#222" stroke-width="0.5"/>
<line x1="270.0" y1="119.20" x2="276.8" y2="119.20" stroke="#111" stroke-width="0.7"/>
<circle cx="273.40" cy="119.20" r="1.0"/>
<g transform="translate(283.1,120.4) scale(0.1)"><text font-size="38.0" text-anchor="end" stroke="#111" stroke-width="2.0" font-family="Liberation Serif" font-weight="bold" >4h</text></g>
<line x1="270.0" y1="123.70" x2="276.8" y2="123.70" stroke="#111" stroke-width="0.7"/>
<rect x="272.40" y="122.70" width="2.0" height="2.0"/>
<g transform="translate(283.1,124.9) scale(0.1)"><text font-size="38.0" text-anchor="end" stroke="#111" stroke-width="2.0" font-family="Liberation Serif" font-weight="bold" >12h</text></g>
<line x1="270.0" y1="128.20" x2="276.8" y2="128.20" stroke="#111" stroke-width="0.7"/>
<path d="M273.40 126.90 L274.60 129.10 L272.20 129.10Z"/>
<g transform="translate(283.1,129.4) scale(0.1)"><text font-size="38.0" text-anchor="end" stroke="#111" stroke-width="2.0" font-family="Liberation Serif" font-weight="bold" >24h</text></g>
<line x1="270.0" y1="132.70" x2="276.8" y2="132.70" stroke="#111" stroke-width="0.7"/>
<circle cx="273.40" cy="132.70" r="1.0"/>
<g transform="translate(283.1,133.9) scale(0.1)"><text font-size="38.0" text-anchor="end" stroke="#111" stroke-width="2.0" font-family="Liberation Serif" font-weight="bold" >48h</text></g>
<rect x="31.2" y="210.5" width="93.2" height="68.75" fill="none" stroke="#8a8a8a" stroke-width="0.7"/>
<line x1="31.2" y1="210.5" x2="31.2" y2="279.25" stroke="#444" stroke-width="0.7"/>
<line x1="30.0" y1="279.25" x2="31.2" y2="279.25" stroke="#444" stroke-width="0.5"/>
<g transform="translate(29.3,280.85) scale(0.1)"><text font-size="54.0" text-anchor="end" stroke="#111" stroke-width="3.0" font-family="Liberation Serif" font-weight="bold" >0</text></g>
<line x1="30.0" y1="265.50" x2="31.2" y2="265.50" stroke="#444" stroke-width="0.5"/>
<g transform="translate(29.3,267.1) scale(0.1)"><text font-size="54.0" text-anchor="end" stroke="#111" stroke-width="3.0" font-family="Liberation Serif" font-weight="bold" >20</text></g>
<line x1="30.0" y1="251.75" x2="31.2" y2="251.75" stroke="#444" stroke-width="0.5"/>
<g transform="translate(29.3,253.35) scale(0.1)"><text font-size="54.0" text-anchor="end" stroke="#111" stroke-width="3.0" font-family="Liberation Serif" font-weight="bold" >40</text></g>
<line x1="30.0" y1="238.00" x2="31.2" y2="238.00" stroke="#444" stroke-width="0.5"/>
<g transform="translate(29.3,239.6) scale(0.1)"><text font-size="54.0" text-anchor="end" stroke="#111" stroke-width="3.0" font-family="Liberation Serif" font-weight="bold" >60</text></g>
<line x1="30.0" y1="224.25" x2="31.2" y2="224.25" stroke="#444" stroke-width="0.5"/>
<g transform="translate(29.3,225.85) scale(0.1)"><text font-size="54.0" text-anchor="end" stroke="#111" stroke-width="3.0" font-family="Liberation Serif" font-weight="bold" >80</text></g>
<line x1="30.0" y1="210.50" x2="31.2" y2="210.50" stroke="#444" stroke-width="0.5"/>
<g transform="translate(29.3,212.1) scale(0.1)"><text font-size="54.0" text-anchor="end" stroke="#111" stroke-width="3.0" font-family="Liberation Serif" font-weight="bold" >100</text></g>
<g transform="translate(19.5,245.57) rotate(-90) scale(0.1)"><text font-size="52" text-anchor="middle" stroke="#111" stroke-width="2.4" font-family="Liberation Serif" font-weight="bold" textLength="170" lengthAdjust="spacingAndGlyphs">% cells</text></g>
<rect x="36.15" y="271.14" width="6.2" height="4.68" fill="#8a8a8a"/>
<rect x="36.15" y="275.81" width="6.2" height="3.44" fill="#1c1c1c"/>
<rect x="51.40" y="271.27" width="6.2" height="5.09" fill="#8a8a8a"/>
<rect x="51.40" y="276.36" width="6.2" height="2.89" fill="#1c1c1c"/>
<rect x="67.15" y="245.49" width="6.2" height="13.82" fill="#8a8a8a"/>
<rect x="67.15" y="259.31" width="6.2" height="19.94" fill="#1c1c1c"/>
<rect x="82.65" y="254.50" width="6.2" height="17.19" fill="#8a8a8a"/>
<rect x="82.65" y="271.69" width="6.2" height="7.56" fill="#1c1c1c"/>
<rect x="97.65" y="227.48" width="6.2" height="3.03" fill="#8a8a8a"/>
<rect x="97.65" y="230.51" width="6.2" height="48.74" fill="#1c1c1c"/>
<rect x="113.15" y="230.78" width="6.2" height="5.98" fill="#8a8a8a"/>
<rect x="113.15" y="236.76" width="6.2" height="42.49" fill="#1c1c1c"/>
<line x1="85.75" y1="250.72" x2="85.75" y2="254.50" stroke="#222" stroke-width="0.5"/>
<line x1="84.55" y1="250.72" x2="86.95" y2="250.72" stroke="#222" stroke-width="0.5"/>
<line x1="70.25" y1="243.43" x2="70.25" y2="245.49" stroke="#222" stroke-width="0.5"/>
<line x1="69.05" y1="243.43" x2="71.45" y2="243.43" stroke="#222" stroke-width="0.5"/>
<line x1="100.75" y1="226.11" x2="100.75" y2="227.48" stroke="#222" stroke-width="0.5"/>
<line x1="99.55" y1="226.11" x2="101.95" y2="226.11" stroke="#222" stroke-width="0.5"/>
<line x1="39.25" y1="270.45" x2="39.25" y2="271.14" stroke="#222" stroke-width="0.5"/>
<line x1="38.05" y1="270.45" x2="40.45" y2="270.45" stroke="#222" stroke-width="0.5"/>
<line x1="54.5" y1="270.59" x2="54.5" y2="271.27" stroke="#222" stroke-width="0.5"/>
<line x1="53.3" y1="270.59" x2="55.7" y2="270.59" stroke="#222" stroke-width="0.5"/>
<rect x="34.3" y="214.79999999999998" width="2.8" height="2.8" fill="#808080"/>
<g transform="translate(38.89999999999999,218.1) scale(0.1)"><text font-size="58.0" text-anchor="start" stroke="#111" stroke-width="2.0" font-family="Liberation Serif" font-weight="bold" textLength="408.0" lengthAdjust="spacingAndGlyphs" >DiOC₆(3)low/PI-</text></g>
<rect x="34.3" y="221.7" width="2.8" height="2.8" fill="#1c1c1c"/>
<g transform="translate(38.89999999999999,225.0) scale(0.1)"><text font-size="58.0" text-anchor="start" stroke="#111" stroke-width="2.0" font-family="Liberation Serif" font-weight="bold" textLength="424.0" lengthAdjust="spacingAndGlyphs" >DiOC₆(3)low/PI+</text></g>
<line x1="37.35" y1="283.30" x2="41.15" y2="283.30" stroke="#3a3a3a" stroke-width="0.6"/>
<line x1="52.60" y1="283.30" x2="56.40" y2="283.30" stroke="#3a3a3a" stroke-width="0.6"/>
<line x1="68.35" y1="283.30" x2="72.15" y2="283.30" stroke="#3a3a3a" stroke-width="0.6"/>
<line x1="83.85" y1="283.30" x2="87.65" y2="283.30" stroke="#3a3a3a" stroke-width="0.6"/>
<line x1="99.15" y1="282.70" x2="102.35" y2="282.70" stroke="#3a3a3a" stroke-width="0.6"/>
<line x1="100.75" y1="281.10" x2="100.75" y2="284.30" stroke="#3a3a3a" stroke-width="0.6"/>
<line x1="114.65" y1="282.70" x2="117.85" y2="282.70" stroke="#3a3a3a" stroke-width="0.6"/>
<line x1="116.25" y1="281.10" x2="116.25" y2="284.30" stroke="#3a3a3a" stroke-width="0.6"/>
<line x1="37.35" y1="288.80" x2="41.15" y2="288.80" stroke="#3a3a3a" stroke-width="0.6"/>
<line x1="52.60" y1="288.80" x2="56.40" y2="288.80" stroke="#3a3a3a" stroke-width="0.6"/>
<line x1="68.65" y1="288.20" x2="71.85" y2="288.20" stroke="#3a3a3a" stroke-width="0.6"/>
<line x1="70.25" y1="286.60" x2="70.25" y2="289.80" stroke="#3a3a3a" stroke-width="0.6"/>
<line x1="84.15" y1="288.20" x2="87.35" y2="288.20" stroke="#3a3a3a" stroke-width="0.6"/>
<line x1="85.75" y1="286.60" x2="85.75" y2="289.80" stroke="#3a3a3a" stroke-width="0.6"/>
<line x1="98.85" y1="288.80" x2="102.65" y2="288.80" stroke="#3a3a3a" stroke-width="0.6"/>
<line x1="114.35" y1="288.80" x2="118.15" y2="288.80" stroke="#3a3a3a" stroke-width="0.6"/>
<line x1="37.35" y1="294.10" x2="41.15" y2="294.10" stroke="#3a3a3a" stroke-width="0.6"/>
<line x1="52.90" y1="293.50" x2="56.10" y2="293.50" stroke="#3a3a3a" stroke-width="0.6"/>
<line x1="54.5" y1="291.90" x2="54.5" y2="295.10" stroke="#3a3a3a" stroke-width="0.6"/>
<line x1="68.35" y1="294.10" x2="72.15" y2="294.10" stroke="#3a3a3a" stroke-width="0.6"/>
<line x1="84.15" y1="293.50" x2="87.35" y2="293.50" stroke="#3a3a3a" stroke-width="0.6"/>
<line x1="85.75" y1="291.90" x2="85.75" y2="295.10" stroke="#3a3a3a" stroke-width="0.6"/>
<line x1="98.85" y1="294.10" x2="102.65" y2="294.10" stroke="#3a3a3a" stroke-width="0.6"/>
<line x1="114.65" y1="293.50" x2="117.85" y2="293.50" stroke="#3a3a3a" stroke-width="0.6"/>
<line x1="116.25" y1="291.90" x2="116.25" y2="295.10" stroke="#3a3a3a" stroke-width="0.6"/>
<g transform="translate(-0.3,284.3) scale(0.1)"><text font-size="56.0" text-anchor="start" stroke="#111" stroke-width="2.4" font-family="Liberation Serif" font-weight="bold" textLength="323.0" lengthAdjust="spacingAndGlyphs" >BAY 11-7082</text></g>
<g transform="translate(-0.3,290.0) scale(0.1)"><text font-size="56.0" text-anchor="start" stroke="#111" stroke-width="2.4" font-family="Liberation Serif" font-weight="bold" textLength="275.0" lengthAdjust="spacingAndGlyphs" >Bortezomib</text></g>
<g transform="translate(-0.3,295.6) scale(0.1)"><text font-size="56.0" text-anchor="start" stroke="#111" stroke-width="2.4" font-family="Liberation Serif" font-weight="bold" textLength="265.0" lengthAdjust="spacingAndGlyphs" >z-VAD-fmk</text></g>
<rect x="149.7" y="210.5" width="92.5" height="68.75" fill="none" stroke="#8a8a8a" stroke-width="0.7"/>
<line x1="149.7" y1="210.5" x2="149.7" y2="279.25" stroke="#999" stroke-width="0.7"/>
<line x1="148.5" y1="279.25" x2="149.7" y2="279.25" stroke="#999" stroke-width="0.5"/>
<g transform="translate(146.79999999999998,280.85) scale(0.1)"><text font-size="54.0" text-anchor="end" stroke="#111" stroke-width="3.0" font-family="Liberation Serif" font-weight="bold" >0</text></g>
<line x1="148.5" y1="265.50" x2="149.7" y2="265.50" stroke="#999" stroke-width="0.5"/>
<g transform="translate(146.79999999999998,267.1) scale(0.1)"><text font-size="54.0" text-anchor="end" stroke="#111" stroke-width="3.0" font-family="Liberation Serif" font-weight="bold" >20</text></g>
<line x1="148.5" y1="251.75" x2="149.7" y2="251.75" stroke="#999" stroke-width="0.5"/>
<g transform="translate(146.79999999999998,253.35) scale(0.1)"><text font-size="54.0" text-anchor="end" stroke="#111" stroke-width="3.0" font-family="Liberation Serif" font-weight="bold" >40</text></g>
<line x1="148.5" y1="238.00" x2="149.7" y2="238.00" stroke="#999" stroke-width="0.5"/>
<g transform="translate(146.79999999999998,239.6) scale(0.1)"><text font-size="54.0" text-anchor="end" stroke="#111" stroke-width="3.0" font-family="Liberation Serif" font-weight="bold" >60</text></g>
<line x1="148.5" y1="224.25" x2="149.7" y2="224.25" stroke="#999" stroke-width="0.5"/>
<g transform="translate(146.79999999999998,225.85) scale(0.1)"><text font-size="54.0" text-anchor="end" stroke="#111" stroke-width="3.0" font-family="Liberation Serif" font-weight="bold" >80</text></g>
<line x1="148.5" y1="210.50" x2="149.7" y2="210.50" stroke="#999" stroke-width="0.5"/>
<g transform="translate(146.79999999999998,212.1) scale(0.1)"><text font-size="54.0" text-anchor="end" stroke="#111" stroke-width="3.0" font-family="Liberation Serif" font-weight="bold" >100</text></g>
<g transform="translate(138.8,245.57) rotate(-90) scale(0.1)"><text font-size="52" text-anchor="middle" stroke="#111" stroke-width="2.4" font-family="Liberation Serif" font-weight="bold" textLength="170" lengthAdjust="spacingAndGlyphs">% cells</text></g>
<rect x="154.40" y="272.86" width="6.2" height="2.34" fill="#8a8a8a"/>
<rect x="154.40" y="275.19" width="6.2" height="4.06" fill="#1c1c1c"/>
<rect x="169.90" y="272.86" width="6.2" height="2.61" fill="#8a8a8a"/>
<rect x="169.90" y="275.47" width="6.2" height="3.78" fill="#1c1c1c"/>
<rect x="185.40" y="250.03" width="6.2" height="12.99" fill="#8a8a8a"/>
<rect x="185.40" y="263.02" width="6.2" height="16.23" fill="#1c1c1c"/>
<rect x="200.65" y="262.48" width="6.2" height="6.81" fill="#8a8a8a"/>
<rect x="200.65" y="269.28" width="6.2" height="9.97" fill="#1c1c1c"/>
<rect x="216.15" y="242.47" width="6.2" height="2.27" fill="#8a8a8a"/>
<rect x="216.15" y="244.74" width="6.2" height="34.51" fill="#1c1c1c"/>
<rect x="231.40" y="242.26" width="6.2" height="2.48" fill="#8a8a8a"/>
<rect x="231.40" y="244.74" width="6.2" height="34.51" fill="#1c1c1c"/>
<line x1="188.5" y1="249.00" x2="188.5" y2="250.03" stroke="#222" stroke-width="0.5"/>
<line x1="187.3" y1="249.00" x2="189.7" y2="249.00" stroke="#222" stroke-width="0.5"/>
<line x1="203.75" y1="261.44" x2="203.75" y2="262.48" stroke="#222" stroke-width="0.5"/>
<line x1="202.55" y1="261.44" x2="204.95" y2="261.44" stroke="#222" stroke-width="0.5"/>
<line x1="219.25" y1="241.44" x2="219.25" y2="242.47" stroke="#222" stroke-width="0.5"/>
<line x1="218.05" y1="241.44" x2="220.45" y2="241.44" stroke="#222" stroke-width="0.5"/>
<line x1="234.5" y1="241.23" x2="234.5" y2="242.26" stroke="#222" stroke-width="0.5"/>
<line x1="233.3" y1="241.23" x2="235.7" y2="241.23" stroke="#222" stroke-width="0.5"/>
<line x1="157.5" y1="272.17" x2="157.5" y2="272.86" stroke="#222" stroke-width="0.5"/>
<line x1="156.3" y1="272.17" x2="158.7" y2="272.17" stroke="#222" stroke-width="0.5"/>
<line x1="173" y1="272.17" x2="173" y2="272.86" stroke="#222" stroke-width="0.5"/>
<line x1="171.8" y1="272.17" x2="174.2" y2="272.17" stroke="#222" stroke-width="0.5"/>
<rect x="153.3" y="214.60000000000002" width="2.4" height="2.4" fill="#777"/>
<g transform="translate(156.4,217.70000000000002) scale(0.1)"><text font-size="56.0" text-anchor="start" stroke="#111" stroke-width="2.0" font-family="Liberation Serif" font-weight="bold" textLength="280" lengthAdjust="spacingAndGlyphs" >AnnV+/PI-</text></g>
<rect x="153.3" y="221.9" width="2.4" height="2.4" fill="#1c1c1c"/>
<g transform="translate(156.4,225.0) scale(0.1)"><text font-size="56.0" text-anchor="start" stroke="#111" stroke-width="2.0" font-family="Liberation Serif" font-weight="bold" textLength="295.0" lengthAdjust="spacingAndGlyphs" >AnnV+/PI+</text></g>
<line x1="155.60" y1="283.30" x2="159.40" y2="283.30" stroke="#3a3a3a" stroke-width="0.6"/>
<line x1="171.10" y1="283.30" x2="174.90" y2="283.30" stroke="#3a3a3a" stroke-width="0.6"/>
<line x1="186.60" y1="283.30" x2="190.40" y2="283.30" stroke="#3a3a3a" stroke-width="0.6"/>
<line x1="201.85" y1="283.30" x2="205.65" y2="283.30" stroke="#3a3a3a" stroke-width="0.6"/>
<line x1="217.65" y1="282.70" x2="220.85" y2="282.70" stroke="#3a3a3a" stroke-width="0.6"/>
<line x1="219.25" y1="281.10" x2="219.25" y2="284.30" stroke="#3a3a3a" stroke-width="0.6"/>
<line x1="232.90" y1="282.70" x2="236.10" y2="282.70" stroke="#3a3a3a" stroke-width="0.6"/>
<line x1="234.5" y1="281.10" x2="234.5" y2="284.30" stroke="#3a3a3a" stroke-width="0.6"/>
<line x1="155.60" y1="288.80" x2="159.40" y2="288.80" stroke="#3a3a3a" stroke-width="0.6"/>
<line x1="171.10" y1="288.80" x2="174.90" y2="288.80" stroke="#3a3a3a" stroke-width="0.6"/>
<line x1="186.90" y1="288.20" x2="190.10" y2="288.20" stroke="#3a3a3a" stroke-width="0.6"/>
<line x1="188.5" y1="286.60" x2="188.5" y2="289.80" stroke="#3a3a3a" stroke-width="0.6"/>
<line x1="202.15" y1="288.20" x2="205.35" y2="288.20" stroke="#3a3a3a" stroke-width="0.6"/>
<line x1="203.75" y1="286.60" x2="203.75" y2="289.80" stroke="#3a3a3a" stroke-width="0.6"/>
<line x1="217.35" y1="288.80" x2="221.15" y2="288.80" stroke="#3a3a3a" stroke-width="0.6"/>
<line x1="232.60" y1="288.80" x2="236.40" y2="288.80" stroke="#3a3a3a" stroke-width="0.6"/>
<line x1="155.60" y1="294.10" x2="159.40" y2="294.10" stroke="#3a3a3a" stroke-width="0.6"/>
<line x1="171.40" y1="293.50" x2="174.60" y2="293.50" stroke="#3a3a3a" stroke-width="0.6"/>
<line x1="173" y1="291.90" x2="173" y2="295.10" stroke="#3a3a3a" stroke-width="0.6"/>
<line x1="186.60" y1="294.10" x2="190.40" y2="294.10" stroke="#3a3a3a" stroke-width="0.6"/>
<line x1="202.15" y1="293.50" x2="205.35" y2="293.50" stroke="#3a3a3a" stroke-width="0.6"/>
<line x1="203.75" y1="291.90" x2="203.75" y2="295.10" stroke="#3a3a3a" stroke-width="0.6"/>
<line x1="217.35" y1="294.10" x2="221.15" y2="294.10" stroke="#3a3a3a" stroke-width="0.6"/>
<line x1="232.90" y1="293.50" x2="236.10" y2="293.50" stroke="#3a3a3a" stroke-width="0.6"/>
<line x1="234.5" y1="291.90" x2="234.5" y2="295.10" stroke="#3a3a3a" stroke-width="0.6"/>
<rect x="267.4" y="210.5" width="91.20000000000005" height="68.75" fill="none" stroke="#8a8a8a" stroke-width="0.7"/>
<line x1="267.4" y1="210.5" x2="267.4" y2="279.25" stroke="#666" stroke-width="0.7"/>
<line x1="266.2" y1="279.25" x2="267.4" y2="279.25" stroke="#666" stroke-width="0.5"/>
<g transform="translate(264.9,280.85) scale(0.1)"><text font-size="54.0" text-anchor="end" stroke="#111" stroke-width="3.0" font-family="Liberation Serif" font-weight="bold" >0</text></g>
<line x1="266.2" y1="265.50" x2="267.4" y2="265.50" stroke="#666" stroke-width="0.5"/>
<g transform="translate(264.9,267.1) scale(0.1)"><text font-size="54.0" text-anchor="end" stroke="#111" stroke-width="3.0" font-family="Liberation Serif" font-weight="bold" >20</text></g>
<line x1="266.2" y1="251.75" x2="267.4" y2="251.75" stroke="#666" stroke-width="0.5"/>
<g transform="translate(264.9,253.35) scale(0.1)"><text font-size="54.0" text-anchor="end" stroke="#111" stroke-width="3.0" font-family="Liberation Serif" font-weight="bold" >40</text></g>
<line x1="266.2" y1="238.00" x2="267.4" y2="238.00" stroke="#666" stroke-width="0.5"/>
<g transform="translate(264.9,239.6) scale(0.1)"><text font-size="54.0" text-anchor="end" stroke="#111" stroke-width="3.0" font-family="Liberation Serif" font-weight="bold" >60</text></g>
<line x1="266.2" y1="224.25" x2="267.4" y2="224.25" stroke="#666" stroke-width="0.5"/>
<g transform="translate(264.9,225.85) scale(0.1)"><text font-size="54.0" text-anchor="end" stroke="#111" stroke-width="3.0" font-family="Liberation Serif" font-weight="bold" >80</text></g>
<line x1="266.2" y1="210.50" x2="267.4" y2="210.50" stroke="#666" stroke-width="0.5"/>
<g transform="translate(264.9,212.1) scale(0.1)"><text font-size="54.0" text-anchor="end" stroke="#111" stroke-width="3.0" font-family="Liberation Serif" font-weight="bold" >100</text></g>
<g transform="translate(256.6,245.57) rotate(-90) scale(0.1)"><text font-size="52" text-anchor="middle" stroke="#111" stroke-width="2.4" font-family="Liberation Serif" font-weight="bold" textLength="170" lengthAdjust="spacingAndGlyphs">% cells</text></g>
<rect x="271.85" y="276.09" width="6.6" height="3.16" fill="#000"/>
<rect x="287.25" y="277.32" width="6.6" height="1.93" fill="#000"/>
<rect x="302.15" y="269.56" width="6.6" height="9.69" fill="#000"/>
<rect x="317.20" y="274.92" width="6.6" height="4.33" fill="#000"/>
<rect x="332.30" y="228.99" width="6.6" height="50.26" fill="#000"/>
<rect x="347.55" y="274.51" width="6.6" height="4.74" fill="#000"/>
<line x1="335.6" y1="225.01" x2="335.6" y2="228.99" stroke="#222" stroke-width="0.5"/>
<line x1="334.40000000000003" y1="225.01" x2="336.8" y2="225.01" stroke="#222" stroke-width="0.5"/>
<line x1="305.45" y1="267.84" x2="305.45" y2="269.56" stroke="#222" stroke-width="0.5"/>
<line x1="304.25" y1="267.84" x2="306.65" y2="267.84" stroke="#222" stroke-width="0.5"/>
<line x1="275.15" y1="275.54" x2="275.15" y2="276.09" stroke="#222" stroke-width="0.5"/>
<line x1="273.95" y1="275.54" x2="276.34999999999997" y2="275.54" stroke="#222" stroke-width="0.5"/>
<line x1="320.5" y1="273.96" x2="320.5" y2="274.92" stroke="#222" stroke-width="0.5"/>
<line x1="319.3" y1="273.96" x2="321.7" y2="273.96" stroke="#222" stroke-width="0.5"/>
<line x1="350.85" y1="273.54" x2="350.85" y2="274.51" stroke="#222" stroke-width="0.5"/>
<line x1="349.65000000000003" y1="273.54" x2="352.05" y2="273.54" stroke="#222" stroke-width="0.5"/>
<rect x="273.3" y="217.0" width="3.6" height="3.6" fill="#000"/>
<g transform="translate(277.6,220.70000000000002) scale(0.1)"><text font-size="62.0" text-anchor="start" stroke="#111" stroke-width="2.0" font-family="Liberation Serif" font-weight="bold" textLength="333.0" lengthAdjust="spacingAndGlyphs" >Karryorhexis</text></g>
<line x1="273.25" y1="283.30" x2="277.05" y2="283.30" stroke="#3a3a3a" stroke-width="0.6"/>
<line x1="288.65" y1="283.30" x2="292.45" y2="283.30" stroke="#3a3a3a" stroke-width="0.6"/>
<line x1="303.85" y1="282.70" x2="307.05" y2="282.70" stroke="#3a3a3a" stroke-width="0.6"/>
<line x1="305.45" y1="281.10" x2="305.45" y2="284.30" stroke="#3a3a3a" stroke-width="0.6"/>
<line x1="318.90" y1="282.70" x2="322.10" y2="282.70" stroke="#3a3a3a" stroke-width="0.6"/>
<line x1="320.5" y1="281.10" x2="320.5" y2="284.30" stroke="#3a3a3a" stroke-width="0.6"/>
<line x1="333.70" y1="283.30" x2="337.50" y2="283.30" stroke="#3a3a3a" stroke-width="0.6"/>
<line x1="348.95" y1="283.30" x2="352.75" y2="283.30" stroke="#3a3a3a" stroke-width="0.6"/>
<line x1="273.25" y1="288.80" x2="277.05" y2="288.80" stroke="#3a3a3a" stroke-width="0.6"/>
<line x1="288.65" y1="288.80" x2="292.45" y2="288.80" stroke="#3a3a3a" stroke-width="0.6"/>
<line x1="303.55" y1="288.80" x2="307.35" y2="288.80" stroke="#3a3a3a" stroke-width="0.6"/>
<line x1="318.60" y1="288.80" x2="322.40" y2="288.80" stroke="#3a3a3a" stroke-width="0.6"/>
<line x1="334.00" y1="288.20" x2="337.20" y2="288.20" stroke="#3a3a3a" stroke-width="0.6"/>
<line x1="335.6" y1="286.60" x2="335.6" y2="289.80" stroke="#3a3a3a" stroke-width="0.6"/>
<line x1="349.25" y1="288.20" x2="352.45" y2="288.20" stroke="#3a3a3a" stroke-width="0.6"/>
<line x1="350.85" y1="286.60" x2="350.85" y2="289.80" stroke="#3a3a3a" stroke-width="0.6"/>
<line x1="273.25" y1="294.10" x2="277.05" y2="294.10" stroke="#3a3a3a" stroke-width="0.6"/>
<line x1="288.95" y1="293.50" x2="292.15" y2="293.50" stroke="#3a3a3a" stroke-width="0.6"/>
<line x1="290.55" y1="291.90" x2="290.55" y2="295.10" stroke="#3a3a3a" stroke-width="0.6"/>
<line x1="303.55" y1="294.10" x2="307.35" y2="294.10" stroke="#3a3a3a" stroke-width="0.6"/>
<line x1="318.90" y1="293.50" x2="322.10" y2="293.50" stroke="#3a3a3a" stroke-width="0.6"/>
<line x1="320.5" y1="291.90" x2="320.5" y2="295.10" stroke="#3a3a3a" stroke-width="0.6"/>
<line x1="333.70" y1="294.10" x2="337.50" y2="294.10" stroke="#3a3a3a" stroke-width="0.6"/>
<line x1="349.25" y1="293.50" x2="352.45" y2="293.50" stroke="#3a3a3a" stroke-width="0.6"/>
<line x1="350.85" y1="291.90" x2="350.85" y2="295.10" stroke="#3a3a3a" stroke-width="0.6"/>
<rect x="279.7" y="227.4" width="25.9" height="25.6" fill="#000"/>
<path d="M291.43 235.47 L292.78 234.39 L293.86 235.47 L295.20 235.20 L296.55 236.55 L295.47 237.89 L295.20 240.18 L296.55 241.93 L298.16 242.47 L297.90 244.22 L297.22 246.24 L295.88 245.97 L295.47 244.22 L293.86 244.22 L293.59 247.32 L291.70 247.32 L291.43 244.22 L290.89 242.20 L291.84 240.18 L291.16 237.89Z" fill="#fff"/>
<path d="M288.4 240.6 L290.2 236.6 L291.6 234.8" stroke="#8a8a8a" stroke-width="1.1" fill="none" stroke-linecap="round"/>
<circle cx="291.3" cy="233.6" r="0.5" fill="#999"/>
<line x1="295.5" y1="254.7" x2="303.3" y2="254.7" stroke="#111" stroke-width="0.7"/>
<line x1="295.5" y1="253.8" x2="295.5" y2="255.6" stroke="#111" stroke-width="0.5"/>
<line x1="303.3" y1="253.8" x2="303.3" y2="255.6" stroke="#111" stroke-width="0.5"/>
<g transform="translate(299.9,259.2) scale(0.1)"><text font-size="38.0" text-anchor="middle" stroke="#111" stroke-width="1.4000000000000001" font-family="Liberation Serif" font-weight="bold" >5μm</text></g>
<line x1="419.2" y1="93.0" x2="469.2" y2="93.0" stroke="#555" stroke-width="0.8"/>
<line x1="476.2" y1="93.0" x2="497" y2="93.0" stroke="#555" stroke-width="0.8"/>
<g transform="translate(444.3,90.7) scale(0.1)"><text font-size="52.0" text-anchor="middle" stroke="#111" stroke-width="1.0" font-family="Liberation Serif" >12H</text></g>
<g transform="translate(487,90.7) scale(0.1)"><text font-size="52.0" text-anchor="middle" stroke="#111" stroke-width="1.0" font-family="Liberation Serif" >24H</text></g>
<g transform="translate(410.4,99.9) scale(0.1)"><text font-size="56.0" text-anchor="end" stroke="#111" stroke-width="2.2" font-family="Liberation Serif" font-weight="bold" textLength="258.0" lengthAdjust="spacingAndGlyphs" >z-VAD-fmk</text></g>
<g transform="translate(416.0,105.5) scale(0.1)"><text font-size="56.0" text-anchor="end" stroke="#111" stroke-width="2.2" font-family="Liberation Serif" font-weight="bold" textLength="310" lengthAdjust="spacingAndGlyphs" >BAY 11-7082</text></g>
<line x1="420.50" y1="98.80" x2="424.30" y2="98.80" stroke="#222" stroke-width="0.8"/>
<line x1="434.20" y1="98.20" x2="437.40" y2="98.20" stroke="#222" stroke-width="0.8"/>
<line x1="435.8" y1="96.60" x2="435.8" y2="99.80" stroke="#222" stroke-width="0.8"/>
<line x1="447.00" y1="98.80" x2="450.80" y2="98.80" stroke="#222" stroke-width="0.8"/>
<line x1="463.70" y1="98.20" x2="466.90" y2="98.20" stroke="#222" stroke-width="0.8"/>
<line x1="465.3" y1="96.60" x2="465.3" y2="99.80" stroke="#222" stroke-width="0.8"/>
<line x1="478.90" y1="98.80" x2="482.70" y2="98.80" stroke="#222" stroke-width="0.8"/>
<line x1="492.30" y1="98.20" x2="495.50" y2="98.20" stroke="#222" stroke-width="0.8"/>
<line x1="493.9" y1="96.60" x2="493.9" y2="99.80" stroke="#222" stroke-width="0.8"/>
<line x1="420.50" y1="104.20" x2="424.30" y2="104.20" stroke="#222" stroke-width="0.8"/>
<line x1="433.90" y1="104.20" x2="437.70" y2="104.20" stroke="#222" stroke-width="0.8"/>
<line x1="447.30" y1="103.60" x2="450.50" y2="103.60" stroke="#222" stroke-width="0.8"/>
<line x1="448.9" y1="102.00" x2="448.9" y2="105.20" stroke="#222" stroke-width="0.8"/>
<line x1="463.70" y1="103.60" x2="466.90" y2="103.60" stroke="#222" stroke-width="0.8"/>
<line x1="465.3" y1="102.00" x2="465.3" y2="105.20" stroke="#222" stroke-width="0.8"/>
<line x1="479.20" y1="103.60" x2="482.40" y2="103.60" stroke="#222" stroke-width="0.8"/>
<line x1="480.8" y1="102.00" x2="480.8" y2="105.20" stroke="#222" stroke-width="0.8"/>
<line x1="492.30" y1="103.60" x2="495.50" y2="103.60" stroke="#222" stroke-width="0.8"/>
<line x1="493.9" y1="102.00" x2="493.9" y2="105.20" stroke="#222" stroke-width="0.8"/>
<rect x="413.6" y="109.9" width="90.5" height="14.5" fill="#f3f3f3" stroke="#111" stroke-width="0.9"/>
<rect x="413.6" y="128.2" width="90.5" height="11.8" fill="#ebebeb" stroke="#111" stroke-width="0.9"/>
<g transform="translate(373.3,115.9) scale(0.1)"><text font-size="63.0" text-anchor="start" stroke="#111" stroke-width="3.4000000000000004" font-family="Liberation Serif" font-weight="bold" textLength="198.0" lengthAdjust="spacingAndGlyphs" >cleaved</text></g>
<g transform="translate(373.3,123.1) scale(0.1)"><text font-size="63.0" text-anchor="start" stroke="#111" stroke-width="3.4000000000000004" font-family="Liberation Serif" font-weight="bold" textLength="258.0" lengthAdjust="spacingAndGlyphs" >caspase-3</text></g>
<g transform="translate(373.3,136.3) scale(0.1)"><text font-size="64.0" text-anchor="start" stroke="#111" stroke-width="3.4000000000000004" font-family="Liberation Serif" font-weight="bold" textLength="232.0" lengthAdjust="spacingAndGlyphs" >GAPDH</text></g>
<line x1="403" y1="116.8" x2="410.8" y2="116.8" stroke="#111" stroke-width="0.8"/>
<path d="M411.8 116.8 l-2.4 -1.3 l0 2.6z" fill="#111"/>
<line x1="403" y1="134.2" x2="410.8" y2="134.2" stroke="#111" stroke-width="0.8"/>
<path d="M411.8 134.2 l-2.4 -1.3 l0 2.6z" fill="#111"/>
<line x1="405.8" y1="173.3" x2="456.3" y2="173.3" stroke="#555" stroke-width="0.8"/>
<line x1="464.7" y1="173.3" x2="486.3" y2="173.3" stroke="#555" stroke-width="0.8"/>
<g transform="translate(430.6,171.7) scale(0.1)"><text font-size="52.0" text-anchor="middle" stroke="#111" stroke-width="1.0" font-family="Liberation Serif" >12H</text></g>
<g transform="translate(473.3,171.7) scale(0.1)"><text font-size="52.0" text-anchor="middle" stroke="#111" stroke-width="1.0" font-family="Liberation Serif" >24H</text></g>
<g transform="translate(373.5,179.5) scale(0.1)"><text font-size="56.0" text-anchor="start" stroke="#111" stroke-width="2.4" font-family="Liberation Serif" font-weight="bold" textLength="295.0" lengthAdjust="spacingAndGlyphs" >z-VAD-fmk</text></g>
<g transform="translate(373.5,185.6) scale(0.1)"><text font-size="56.0" text-anchor="start" stroke="#111" stroke-width="2.4" font-family="Liberation Serif" font-weight="bold" textLength="298.0" lengthAdjust="spacingAndGlyphs" >Bortezomib</text></g>
<line x1="406.80" y1="178.00" x2="410.60" y2="178.00" stroke="#222" stroke-width="0.8"/>
<line x1="419.80" y1="177.40" x2="423.00" y2="177.40" stroke="#222" stroke-width="0.8"/>
<line x1="421.4" y1="175.80" x2="421.4" y2="179.00" stroke="#222" stroke-width="0.8"/>
<line x1="434.00" y1="178.00" x2="437.80" y2="178.00" stroke="#222" stroke-width="0.8"/>
<line x1="450.60" y1="177.40" x2="453.80" y2="177.40" stroke="#222" stroke-width="0.8"/>
<line x1="452.2" y1="175.80" x2="452.2" y2="179.00" stroke="#222" stroke-width="0.8"/>
<line x1="466.40" y1="178.00" x2="470.20" y2="178.00" stroke="#222" stroke-width="0.8"/>
<line x1="480.40" y1="177.40" x2="483.60" y2="177.40" stroke="#222" stroke-width="0.8"/>
<line x1="482" y1="175.80" x2="482" y2="179.00" stroke="#222" stroke-width="0.8"/>
<line x1="406.80" y1="183.70" x2="410.60" y2="183.70" stroke="#222" stroke-width="0.8"/>
<line x1="419.50" y1="183.70" x2="423.30" y2="183.70" stroke="#222" stroke-width="0.8"/>
<line x1="434.30" y1="183.10" x2="437.50" y2="183.10" stroke="#222" stroke-width="0.8"/>
<line x1="435.9" y1="181.50" x2="435.9" y2="184.70" stroke="#222" stroke-width="0.8"/>
<line x1="450.60" y1="183.10" x2="453.80" y2="183.10" stroke="#222" stroke-width="0.8"/>
<line x1="452.2" y1="181.50" x2="452.2" y2="184.70" stroke="#222" stroke-width="0.8"/>
<line x1="466.70" y1="183.10" x2="469.90" y2="183.10" stroke="#222" stroke-width="0.8"/>
<line x1="468.3" y1="181.50" x2="468.3" y2="184.70" stroke="#222" stroke-width="0.8"/>
<line x1="480.40" y1="183.10" x2="483.60" y2="183.10" stroke="#222" stroke-width="0.8"/>
<line x1="482" y1="181.50" x2="482" y2="184.70" stroke="#222" stroke-width="0.8"/>
<rect x="399.8" y="189.3" width="89.4" height="15.6" fill="#f4f4f4" stroke="#111" stroke-width="0.9"/>
<rect x="399.8" y="207.8" width="89.4" height="14.8" fill="#ececec" stroke="#111" stroke-width="0.9"/>
<line x1="491.7" y1="196.6" x2="497.0" y2="196.6" stroke="#111" stroke-width="1.0"/>
<line x1="491.7" y1="216.9" x2="497.0" y2="216.9" stroke="#111" stroke-width="1.0"/>
<g transform="translate(499.6,198.3) scale(0.1)"><text font-size="55.0" text-anchor="start" stroke="#111" stroke-width="2.4" font-family="Liberation Serif" font-weight="bold" textLength="206.0" lengthAdjust="spacingAndGlyphs" >14.5 kDa</text></g>
<g transform="translate(499.6,218.6) scale(0.1)"><text font-size="55.0" text-anchor="start" stroke="#111" stroke-width="2.4" font-family="Liberation Serif" font-weight="bold" textLength="160" lengthAdjust="spacingAndGlyphs" >37 kDa</text></g>
</g>
<g filter="url(#bl2)">
<path d="M446.5 116.2 Q451 115.0 455 115.3" stroke="#4a4a4a" stroke-width="2.7" fill="none" stroke-linecap="round"/>
<path d="M476 117.3 Q480 117.5 484 118.7" stroke="#242424" stroke-width="2.8" fill="none" stroke-linecap="round"/>
<path d="M463 117 L470.5 117.2" stroke="#dedede" stroke-width="2.2" fill="none" stroke-linecap="round"/>
<path d="M490 118.8 L497.5 119" stroke="#e2e2e2" stroke-width="2.2" fill="none" stroke-linecap="round"/>
<rect x="418.0" y="130.90" width="12.50" height="5.8" rx="2.9" fill="#0a0a0a"/>
<rect x="431.8" y="131.70" width="12.50" height="5.0" rx="2.5" fill="#0a0a0a"/>
<rect x="445.90000000000003" y="131.50" width="11.80" height="5.4" rx="2.7" fill="#0a0a0a"/>
<rect x="459.90000000000003" y="132.50" width="12.30" height="5.0" rx="2.5" fill="#0a0a0a"/>
<rect x="473.3" y="131.80" width="12.90" height="6.4" rx="3.2" fill="#0a0a0a"/>
<rect x="487.8" y="133.60" width="11.30" height="4.0" rx="2.0" fill="#0a0a0a"/>
<path d="M420 134 L458 134.3 L497 135.6" stroke="#1c1c1c" stroke-width="2.6" fill="none"/>
</g><g filter="url(#bl3)">
<path d="M431 195.8 L443.4 195.8" stroke="#0c0c0c" stroke-width="2.7" fill="none" stroke-linecap="round"/>
<path d="M464.6 197.6 Q469 197.6 473.9 198.6" stroke="#0c0c0c" stroke-width="2.9" fill="none" stroke-linecap="round"/>
<path d="M448.5 197.6 L455.5 197.6" stroke="#e9e9e9" stroke-width="2" fill="none" stroke-linecap="round"/>
<path d="M478.5 199.8 L485.5 200" stroke="#e6e6e6" stroke-width="2" fill="none" stroke-linecap="round"/>
<path d="M403.2 214.1 Q445 213.9 485.6 216.5" stroke="#0a0a0a" stroke-width="3.1" fill="none" stroke-linecap="round"/>
<ellipse cx="409" cy="214.1" rx="5" ry="1.9" fill="#0a0a0a"/>
<ellipse cx="422" cy="214.2" rx="5" ry="1.9" fill="#0a0a0a"/>
<ellipse cx="436" cy="214.4" rx="5" ry="1.9" fill="#0a0a0a"/>
<ellipse cx="452" cy="214.8" rx="5" ry="1.9" fill="#0a0a0a"/>
<ellipse cx="468" cy="215.4" rx="5" ry="1.9" fill="#0a0a0a"/>
</g>
</svg></body></html>
